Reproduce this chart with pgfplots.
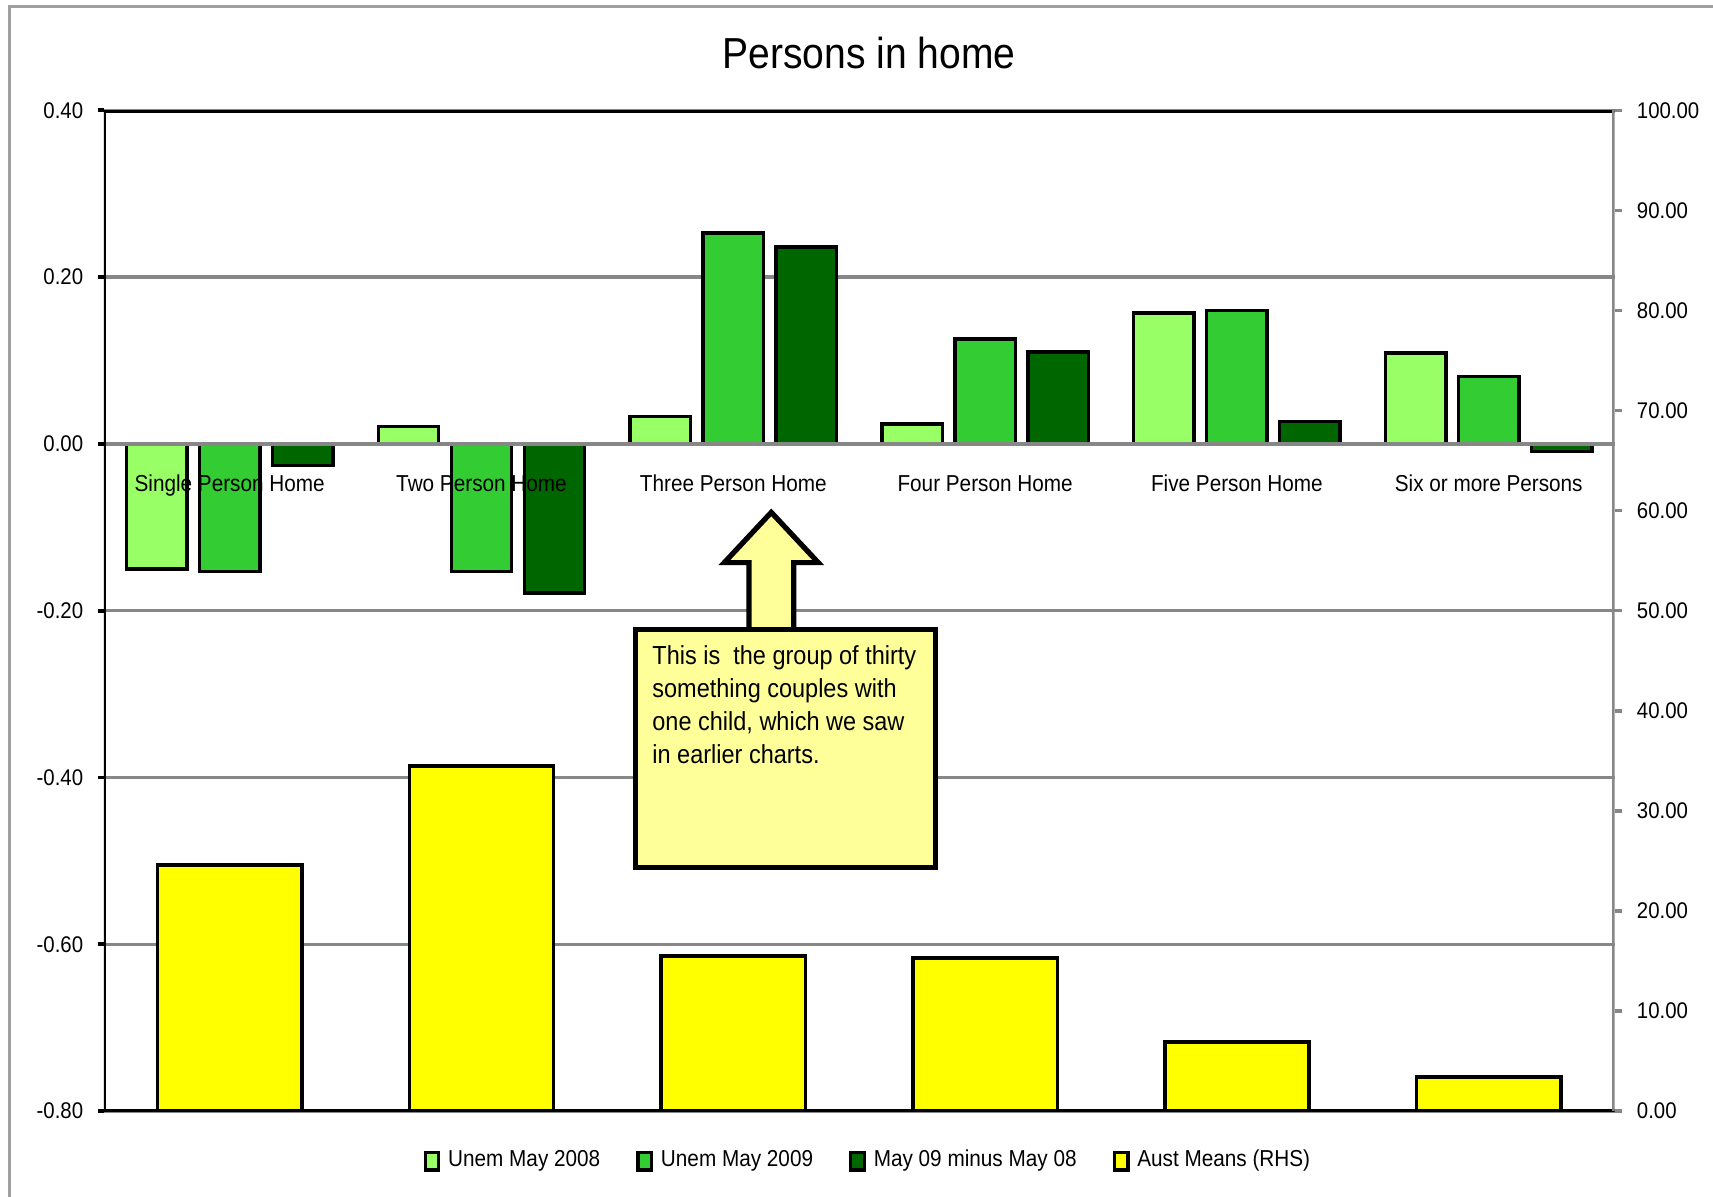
\documentclass[border=0pt]{standalone}
\usepackage{pgfplots}
\pgfplotsset{compat=1.18}
\usepackage{pgfplotstable}
\usepackage{fontspec}
\setmainfont{Liberation Sans}[FakeStretch=0.9]

\definecolor{lightg}{HTML}{99FF66}
\definecolor{midg}{HTML}{33CC33}
\definecolor{darkg}{HTML}{006600}
\definecolor{auyellow}{HTML}{FFFF00}
\definecolor{notefill}{HTML}{FFFF99}
\definecolor{gridgray}{HTML}{878787}
\definecolor{framegray}{HTML}{A0A0A0}

% change in unemployment share by household size (LHS) and Australian means (RHS)
\pgfplotstableread{
x   u08     u09     diff    aust
0  -0.150  -0.153  -0.026   24.6
1   0.021  -0.153  -0.179   34.5
2   0.033   0.253   0.236   15.5
3   0.024   0.126   0.110   15.3
4   0.157   0.160   0.027    6.9
5   0.109   0.081  -0.009    3.4
}\persons

\pgfplotsset{
  sqlegend/.style={legend image code/.code={%
      \draw[##1,line width=0.3mm] (0mm,-0.8mm) rectangle (1.25mm,0.8mm);}},
  greenbar/.style={ybar, bar width=0.24, draw=black, line width=0.32mm, sqlegend},
}
\newcommand{\tickfont}{\fontsize{5.9}{7}\selectfont}
\newcommand{\catfont}{\fontsize{6.0}{7}\selectfont}
\newcommand{\notefont}{\fontsize{6.8}{8.5}\selectfont}
\tikzset{catlabel/.style={anchor=base, font=\catfont, inner sep=0pt, yshift=-4.35mm}}

\begin{document}
\begin{tikzpicture}[x=0.1mm,y=0.1mm]
% chart frame
\draw[framegray, line width=0.3mm] (8.5,1089) rectangle (1700,-80);
% title
\node[anchor=base, font=\fontsize{11.3}{13}\selectfont, inner sep=0pt] at (795.5,1032.5) {Persons in home};

% left axis: changes
\begin{axis}[
  at={(9.5mm,7.8mm)}, anchor=south west,
  width=138.3mm, height=91.6mm, scale only axis,
  xmin=-0.5, xmax=5.5, ymin=-0.8, ymax=0.4,
  xtick=\empty,
  ytick={-0.8,-0.6,-0.4,-0.2,0,0.2,0.4},
  ytick pos=left, tick align=outside,
  major tick length=0.5mm,
  ytick style={black, line width=0.35mm},
  yticklabel style={font=\tickfont, xshift=-0.15mm,
    /pgf/number format/fixed, /pgf/number format/fixed zerofill,
    /pgf/number format/precision=2, /pgf/number format/assume math mode=true},
  ymajorgrids, grid style={gridgray, line width=0.3mm},
  axis line style={draw=none},
  clip=false,
  legend columns=4,
  legend cell align=left,
  legend style={at={(0.5076,-0.0502)}, anchor=center, draw=none, fill=none,
    font=\catfont, /tikz/every even column/.append style={column sep=2.6mm}},
]
\addplot[greenbar, bar shift=-0.29, fill=lightg] table[x=x, y=u08] {\persons};
\addlegendentry{Unem May 2008}
\addplot[greenbar, bar shift=0, fill=midg] table[x=x, y=u09] {\persons};
\addlegendentry{Unem May 2009}
\addplot[greenbar, bar shift=0.29, fill=darkg] table[x=x, y=diff] {\persons};
\addlegendentry{May 09 minus May 08}
\addlegendimage{fill=auyellow, draw=black, sqlegend}
\addlegendentry{Aust Means (RHS)}
% category axis crossing at zero
\draw[gridgray, line width=0.32mm] (axis cs:-0.5,0) -- (axis cs:5.5,0);
\node[catlabel] at (axis cs:0,0) {Single Person Home};
\node[catlabel] at (axis cs:1,0) {Two Person Home};
\node[catlabel] at (axis cs:2,0) {Three Person Home};
\node[catlabel] at (axis cs:3,0) {Four Person Home};
\node[catlabel] at (axis cs:4,0) {Five Person Home};
\node[catlabel] at (axis cs:5,0) {Six or more Persons};
\end{axis}

% right axis: Australian means
\begin{axis}[
  at={(9.5mm,7.8mm)}, anchor=south west,
  width=138.3mm, height=91.6mm, scale only axis,
  xmin=-0.5, xmax=5.5, ymin=0, ymax=100,
  xtick=\empty,
  ytick={0,10,...,100},
  ytick pos=right, yticklabel pos=right, tick align=outside,
  major tick length=0.7mm,
  ytick style={gridgray, line width=0.32mm},
  yticklabel style={font=\tickfont, xshift=0.1mm,
    /pgf/number format/fixed, /pgf/number format/fixed zerofill,
    /pgf/number format/precision=2, /pgf/number format/assume math mode=true},
  axis line style={draw=none},
]
\addplot[ybar, bar width=0.573, bar shift=0, fill=auyellow, draw=black, line width=0.32mm]
  table[x=x, y=aust] {\persons};
% plot area border
\draw[black, line width=0.42mm] (rel axis cs:0,0) -- (rel axis cs:1,0);
\draw[black, line width=0.42mm] (rel axis cs:0,1) -- (rel axis cs:1,1);
\draw[black, line width=0.42mm] (rel axis cs:0,0) -- (rel axis cs:0,1);
\draw[gridgray, line width=0.4mm] (rel axis cs:1,0) -- (rel axis cs:1,1);
\end{axis}

% callout
\draw[black, line width=0.48mm, fill=notefill, line join=miter]
  (685.5,516) -- (685.5,580) -- (663,580) -- (706,626)
  -- (749,580) -- (726.5,580) -- (726.5,516) -- cycle;
\draw[black, line width=0.48mm, fill=notefill] (582,519) rectangle (856.5,301);
\node[anchor=base west, font=\notefont, inner sep=0pt] at (596.5,486.3) {This is\ \ the group of thirty};
\node[anchor=base west, font=\notefont, inner sep=0pt] at (596.5,456.3) {something couples with};
\node[anchor=base west, font=\notefont, inner sep=0pt] at (596.5,426.3) {one child, which we saw};
\node[anchor=base west, font=\notefont, inner sep=0pt] at (596.5,396.3) {in earlier charts.};

\pgfresetboundingbox
\useasboundingbox (0,0) rectangle (1568,1095);
\end{tikzpicture}
\end{document}
